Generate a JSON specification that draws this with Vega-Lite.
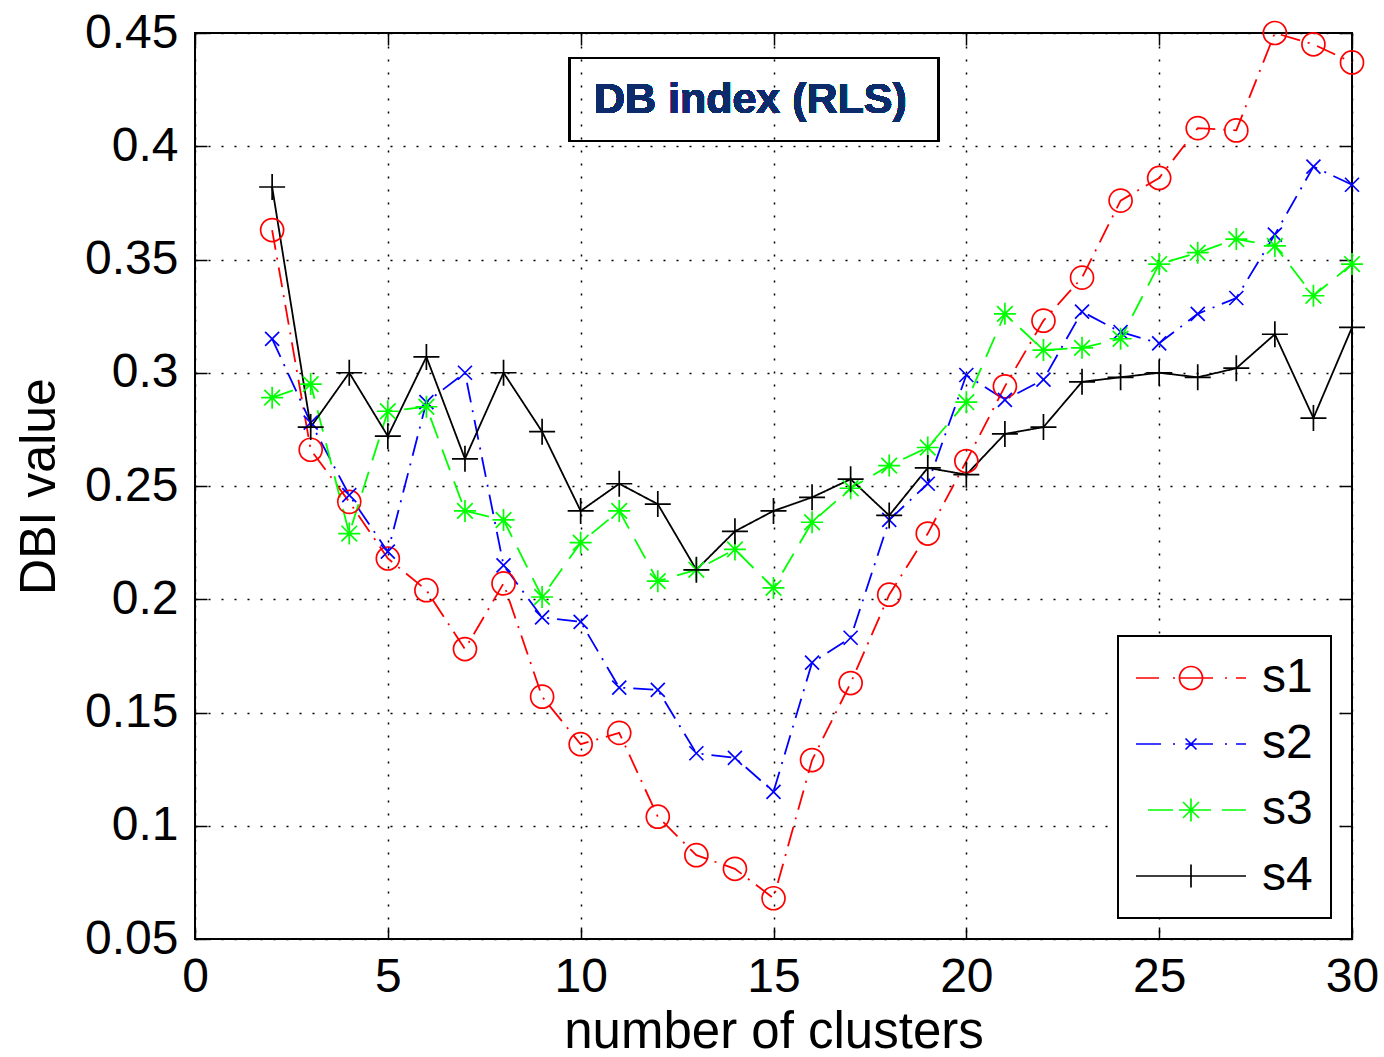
{
  "$schema": "https://vega.github.io/schema/vega-lite/v6.json",
  "width": 1157,
  "height": 906,
  "autosize": {"type": "none"},
  "padding": {"left": 195, "top": 33, "right": 32, "bottom": 118},
  "config": {
    "font": "Liberation Sans",
    "view": {"stroke": "#000000", "strokeWidth": 2},
    "legend": {"strokeWidth": 2},
    "axis": {
      "labelFont": "Liberation Sans",
      "titleFont": "Liberation Sans",
      "labelColor": "#000000",
      "titleColor": "#000000",
      "tickColor": "#000000",
      "domain": false
    }
  },
  "datasets": {
    "dbi": [
      {"k": 2, "series": "s1", "v": 0.363}, {"k": 3, "series": "s1", "v": 0.266}, {"k": 4, "series": "s1", "v": 0.243}, {"k": 5, "series": "s1", "v": 0.218}, {"k": 6, "series": "s1", "v": 0.204}, {"k": 7, "series": "s1", "v": 0.178}, {"k": 8, "series": "s1", "v": 0.207}, {"k": 9, "series": "s1", "v": 0.157}, {"k": 10, "series": "s1", "v": 0.136}, {"k": 11, "series": "s1", "v": 0.141}, {"k": 12, "series": "s1", "v": 0.104}, {"k": 13, "series": "s1", "v": 0.087}, {"k": 14, "series": "s1", "v": 0.081}, {"k": 15, "series": "s1", "v": 0.068}, {"k": 16, "series": "s1", "v": 0.129}, {"k": 17, "series": "s1", "v": 0.163}, {"k": 18, "series": "s1", "v": 0.202}, {"k": 19, "series": "s1", "v": 0.229}, {"k": 20, "series": "s1", "v": 0.261}, {"k": 21, "series": "s1", "v": 0.294}, {"k": 22, "series": "s1", "v": 0.323}, {"k": 23, "series": "s1", "v": 0.342}, {"k": 24, "series": "s1", "v": 0.376}, {"k": 25, "series": "s1", "v": 0.386}, {"k": 26, "series": "s1", "v": 0.408}, {"k": 27, "series": "s1", "v": 0.407}, {"k": 28, "series": "s1", "v": 0.45}, {"k": 29, "series": "s1", "v": 0.445}, {"k": 30, "series": "s1", "v": 0.437},
      {"k": 2, "series": "s2", "v": 0.315}, {"k": 3, "series": "s2", "v": 0.278}, {"k": 4, "series": "s2", "v": 0.246}, {"k": 5, "series": "s2", "v": 0.221}, {"k": 6, "series": "s2", "v": 0.287}, {"k": 7, "series": "s2", "v": 0.3}, {"k": 8, "series": "s2", "v": 0.215}, {"k": 9, "series": "s2", "v": 0.192}, {"k": 10, "series": "s2", "v": 0.19}, {"k": 11, "series": "s2", "v": 0.161}, {"k": 12, "series": "s2", "v": 0.16}, {"k": 13, "series": "s2", "v": 0.132}, {"k": 14, "series": "s2", "v": 0.13}, {"k": 15, "series": "s2", "v": 0.115}, {"k": 16, "series": "s2", "v": 0.172}, {"k": 17, "series": "s2", "v": 0.183}, {"k": 18, "series": "s2", "v": 0.235}, {"k": 19, "series": "s2", "v": 0.251}, {"k": 20, "series": "s2", "v": 0.299}, {"k": 21, "series": "s2", "v": 0.288}, {"k": 22, "series": "s2", "v": 0.297}, {"k": 23, "series": "s2", "v": 0.327}, {"k": 24, "series": "s2", "v": 0.318}, {"k": 25, "series": "s2", "v": 0.313}, {"k": 26, "series": "s2", "v": 0.326}, {"k": 27, "series": "s2", "v": 0.333}, {"k": 28, "series": "s2", "v": 0.361}, {"k": 29, "series": "s2", "v": 0.391}, {"k": 30, "series": "s2", "v": 0.383},
      {"k": 2, "series": "s3", "v": 0.289}, {"k": 3, "series": "s3", "v": 0.295}, {"k": 4, "series": "s3", "v": 0.229}, {"k": 5, "series": "s3", "v": 0.283}, {"k": 6, "series": "s3", "v": 0.285}, {"k": 7, "series": "s3", "v": 0.239}, {"k": 8, "series": "s3", "v": 0.235}, {"k": 9, "series": "s3", "v": 0.201}, {"k": 10, "series": "s3", "v": 0.225}, {"k": 11, "series": "s3", "v": 0.239}, {"k": 12, "series": "s3", "v": 0.208}, {"k": 13, "series": "s3", "v": 0.213}, {"k": 14, "series": "s3", "v": 0.222}, {"k": 15, "series": "s3", "v": 0.205}, {"k": 16, "series": "s3", "v": 0.234}, {"k": 17, "series": "s3", "v": 0.249}, {"k": 18, "series": "s3", "v": 0.259}, {"k": 19, "series": "s3", "v": 0.267}, {"k": 20, "series": "s3", "v": 0.287}, {"k": 21, "series": "s3", "v": 0.326}, {"k": 22, "series": "s3", "v": 0.31}, {"k": 23, "series": "s3", "v": 0.311}, {"k": 24, "series": "s3", "v": 0.315}, {"k": 25, "series": "s3", "v": 0.348}, {"k": 26, "series": "s3", "v": 0.353}, {"k": 27, "series": "s3", "v": 0.359}, {"k": 28, "series": "s3", "v": 0.356}, {"k": 29, "series": "s3", "v": 0.334}, {"k": 30, "series": "s3", "v": 0.348},
      {"k": 2, "series": "s4", "v": 0.382}, {"k": 3, "series": "s4", "v": 0.276}, {"k": 4, "series": "s4", "v": 0.3}, {"k": 5, "series": "s4", "v": 0.272}, {"k": 6, "series": "s4", "v": 0.307}, {"k": 7, "series": "s4", "v": 0.262}, {"k": 8, "series": "s4", "v": 0.3}, {"k": 9, "series": "s4", "v": 0.274}, {"k": 10, "series": "s4", "v": 0.239}, {"k": 11, "series": "s4", "v": 0.251}, {"k": 12, "series": "s4", "v": 0.242}, {"k": 13, "series": "s4", "v": 0.213}, {"k": 14, "series": "s4", "v": 0.23}, {"k": 15, "series": "s4", "v": 0.239}, {"k": 16, "series": "s4", "v": 0.245}, {"k": 17, "series": "s4", "v": 0.253}, {"k": 18, "series": "s4", "v": 0.237}, {"k": 19, "series": "s4", "v": 0.258}, {"k": 20, "series": "s4", "v": 0.255}, {"k": 21, "series": "s4", "v": 0.273}, {"k": 22, "series": "s4", "v": 0.276}, {"k": 23, "series": "s4", "v": 0.296}, {"k": 24, "series": "s4", "v": 0.298}, {"k": 25, "series": "s4", "v": 0.3}, {"k": 26, "series": "s4", "v": 0.298}, {"k": 27, "series": "s4", "v": 0.302}, {"k": 28, "series": "s4", "v": 0.317}, {"k": 29, "series": "s4", "v": 0.28}, {"k": 30, "series": "s4", "v": 0.32}
    ]
  },
  "data": {"name": "dbi"},
  "resolve": {
    "scale": {"shape": "independent", "color": "independent"},
    "axis": {"x": "independent", "y": "independent"}
  },
  "layer": [
    {
      "mark": {"type": "line", "strokeWidth": 1.8},
      "encoding": {
        "x": {
          "field": "k", "type": "quantitative",
          "scale": {"domain": [0, 30], "nice": false, "zero": false},
          "axis": {
            "orient": "bottom",
            "values": [0, 5, 10, 15, 20, 25, 30],
            "labelFontSize": 48,
            "labelFlush": false,
            "labelPadding": 26,
            "tickSize": -12,
            "tickWidth": 1.5,
            "grid": true,
            "gridDash": [2, 11],
            "gridColor": "#000000",
            "gridWidth": 1.5,
            "gridOpacity": 1,
            "title": "number of clusters",
            "titleFontSize": 51,
            "titleFontWeight": "normal",
            "titlePadding": 6
          }
        },
        "y": {
          "field": "v", "type": "quantitative",
          "scale": {"domain": [0.05, 0.45], "nice": false, "zero": false},
          "axis": {
            "orient": "left",
            "values": [0.05, 0.1, 0.15, 0.2, 0.25, 0.3, 0.35, 0.4, 0.45],
            "format": "~g",
            "labelFontSize": 48,
            "labelPadding": 29,
            "tickSize": -12,
            "tickWidth": 1.5,
            "grid": true,
            "gridDash": [2, 11],
            "gridColor": "#000000",
            "gridWidth": 1.5,
            "gridOpacity": 1,
            "title": "DBI value",
            "titleFontSize": 50,
            "titleFontWeight": "normal",
            "titlePadding": 20
          }
        },
        "color": {
          "field": "series", "type": "nominal",
          "scale": {"domain": ["s1", "s2", "s3", "s4"], "range": ["#ff0000", "#0000ff", "#00ff00", "#000000"]},
          "legend": null
        },
        "strokeDash": {
          "field": "series", "type": "nominal",
          "scale": {"domain": ["s1", "s2", "s3", "s4"], "range": [[20, 8, 2, 8], [20, 8, 2, 8], [22, 12], [1, 0]]},
          "legend": null
        }
      }
    },
    {
      "mark": {"type": "point", "filled": false, "strokeWidth": 1.7, "opacity": 1, "size": 400},
      "encoding": {
        "x": {"field": "k", "type": "quantitative", "axis": null},
        "y": {"field": "v", "type": "quantitative", "axis": null},
        "color": {
          "field": "series", "type": "nominal",
          "scale": {"domain": ["s1", "s2", "s3", "s4"], "range": ["#ff0000", "#0000ff", "#00ff00", "#000000"]},
          "legend": null
        },
        "shape": {
          "field": "series", "type": "nominal",
          "scale": {
            "domain": ["s1", "s2", "s3", "s4"],
            "range": [
              "M-1.15,0A1.15,1.15,0,1,1,1.15,0A1.15,1.15,0,1,1,-1.15,0",
              "M-0.7,-0.7L0.7,0.7M-0.7,0.7L0.7,-0.7",
              "M-1.1,0H1.1M0,-1.1V1.1M-0.78,-0.78L0.78,0.78M-0.78,0.78L0.78,-0.78",
              "M-1.3,0H1.3M0,-1.3V1.3"
            ]
          },
          "legend": null
        }
      }
    },
    {
      "mark": {"type": "point", "filled": false, "opacity": 0, "size": 400},
      "encoding": {
        "x": {
          "field": "k", "type": "quantitative",
          "axis": {"orient": "top", "values": [0, 5, 10, 15, 20, 25, 30], "labels": false, "title": null, "grid": false, "tickSize": -12, "tickWidth": 1.5}
        },
        "y": {
          "field": "v", "type": "quantitative",
          "axis": {"orient": "right", "values": [0.05, 0.1, 0.15, 0.2, 0.25, 0.3, 0.35, 0.4, 0.45], "labels": false, "title": null, "grid": false, "tickSize": -12, "tickWidth": 1.5}
        },
        "color": {
          "field": "series", "type": "nominal",
          "scale": {"domain": ["s1", "s2", "s3", "s4"], "range": ["#ff0000", "#0000ff", "#00ff00", "#000000"]},
          "legend": {
            "title": null,
            "orient": "bottom-right",
            "offset": 21,
            "padding": 18,
            "fillColor": "#ffffff",
            "strokeColor": "#000000",
            "labelFont": "Liberation Sans",
            "labelFontSize": 48,
            "labelColor": "#000000",
            "symbolSize": 400,
            "symbolStrokeWidth": 1.7,
            "symbolOffset": 31,
            "labelOffset": 47,
            "rowPadding": 18
          }
        },
        "shape": {
          "field": "series", "type": "nominal",
          "scale": {
            "domain": ["s1", "s2", "s3", "s4"],
            "range": [
              "M-5.5,0H-3.2M-1.8,0H-1.6M-1.15,0A1.15,1.15,0,1,1,1.15,0A1.15,1.15,0,1,1,-1.15,0M-1.15,0H2.2M3.4,0H3.6M4.5,0H5.5",
              "M-5.5,0H-3.0M-1.8,0H-1.6M-0.55,-0.55L0.55,0.55M-0.55,0.55L0.55,-0.55M-0.55,0H2.2M3.4,0H3.6M4.5,0H5.5",
              "M-4.3,0H-1.8M-1.15,0H1.15M0,-1.15V1.15M-0.8,-0.8L0.8,0.8M-0.8,0.8L0.8,-0.8M-1.2,0H2M3.1,0H5.5",
              "M-5.5,0H5.5M0,-1.15V1.15"
            ]
          },
          "legend": {
            "title": null,
            "orient": "bottom-right",
            "offset": 21,
            "padding": 18,
            "fillColor": "#ffffff",
            "strokeColor": "#000000",
            "labelFont": "Liberation Sans",
            "labelFontSize": 48,
            "labelColor": "#000000",
            "symbolSize": 400,
            "symbolStrokeWidth": 1.7,
            "symbolOffset": 31,
            "labelOffset": 47,
            "rowPadding": 18
          }
        }
      }
    },
    {
      "mark": {"type": "rect", "fill": null, "fillOpacity": 0, "stroke": "#000000", "strokeWidth": 2},
      "encoding": {
        "x": {"datum": 9.7, "type": "quantitative", "axis": null},
        "x2": {"datum": 19.27},
        "y": {"datum": 0.439, "type": "quantitative", "axis": null},
        "y2": {"datum": 0.4023}
      }
    },
    {
      "mark": {"type": "text", "text": "DB index (RLS)", "font": "Liberation Sans", "fontSize": 43, "fontWeight": "bold", "fill": "#0d2a6b", "align": "center", "baseline": "middle"},
      "encoding": {
        "x": {"datum": 14.4, "type": "quantitative", "axis": null},
        "y": {"datum": 0.4206, "type": "quantitative", "axis": null}
      }
    }
  ]
}
